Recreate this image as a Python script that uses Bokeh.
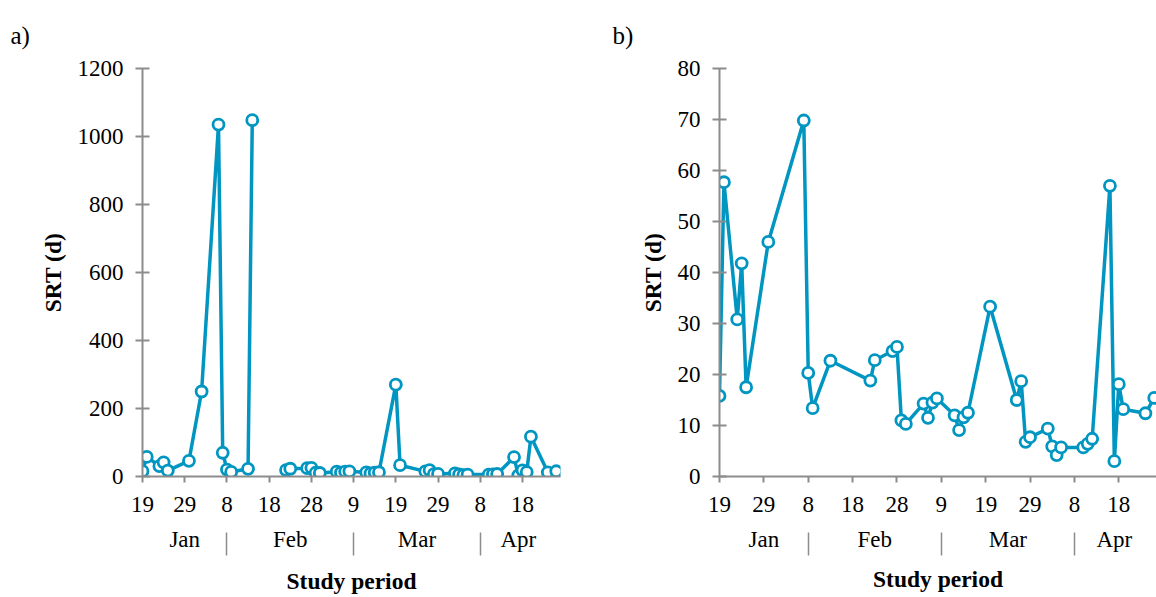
import numpy as np
import pandas as pd
from bokeh.plotting import figure
from bokeh.layouts import row, column
from bokeh.models import LinearAxis, FixedTicker, Range1d, ColumnDataSource
from bokeh.core.properties import value
from bokeh.embed import file_html
from bokeh.resources import INLINE

# ---------------- data ----------------
start_date = "2016-01-19"
dates = ["2016-01-19", "2016-01-20", "2016-01-23", "2016-01-24", "2016-01-25", "2016-01-30",
         "2016-02-02", "2016-02-06", "2016-02-07", "2016-02-08", "2016-02-09", "2016-02-13",
         "2016-02-14", "2016-02-18", "2016-02-22", "2016-02-23", "2016-02-27", "2016-02-28",
         "2016-02-29", "2016-03-01", "2016-03-05", "2016-03-06", "2016-03-07", "2016-03-08",
         "2016-03-12", "2016-03-13", "2016-03-14", "2016-03-15", "2016-03-19", "2016-03-20",
         "2016-03-26", "2016-03-27", "2016-03-28", "2016-03-29", "2016-04-02", "2016-04-03",
         "2016-04-04", "2016-04-05", "2016-04-10", "2016-04-11", "2016-04-12", "2016-04-16",
         "2016-04-17", "2016-04-18", "2016-04-19", "2016-04-20", "2016-04-24", "2016-04-26"]
srt = [15.8, 57.7, 30.8, 41.8, 17.5, 46.0,
       250.0, 1035.0, 69.8, 20.3, 13.4, 22.7,
       1048.0, np.nan, 18.8, 22.8, 24.6, 25.4,
       11.0, 10.3, 14.3, 11.5, 14.5, 15.3,
       12.0, 9.1, 11.6, 12.5, 270.0, 33.3,
       15.0, 18.7, 6.8, 7.7, 9.4, 5.9,
       4.2, 5.7, 5.7, 6.4, 7.4, 57.0,
       3.0, 18.1, 13.2, 117.0, 12.4, 15.4]

tick_dates = ["2016-01-19", "2016-01-29", "2016-02-08", "2016-02-18", "2016-02-28",
              "2016-03-09", "2016-03-19", "2016-03-29", "2016-04-08", "2016-04-18"]
month_names = ["Jan", "Feb", "Mar", "Apr"]
month_label_dates = ["2016-01-29", "2016-02-23", "2016-03-24", "2016-04-17"]
month_break_dates = ["2016-02-08", "2016-03-09", "2016-04-08"]

yticks_a = [0, 200, 400, 600, 800, 1000, 1200]
yticks_b = [0, 10, 20, 30, 40, 50, 60, 70, 80]
outlier_limit = 80

panel_tags = ["a)", "b)"]

# ---------------- helpers ----------------
t0 = pd.Timestamp(start_date)


def to_day(ds):
    return [int((pd.Timestamp(d) - t0).days) for d in ds]


day = np.array(to_day(dates), dtype=float)
val = np.array(srt, dtype=float)
tick_days = to_day(tick_dates)
tick_labels = {d: str((t0 + pd.Timedelta(days=d)).day) for d in tick_days}
month_days = to_day(month_label_dates)
month_overrides = {d: m for d, m in zip(month_days, month_names)}
break_days = to_day(month_break_dates)

BLUE = "#0096C1"
GRAY = "#8C8C8C"
FONT = "Liberation Serif"
TICK_FS = "23px"
TITLE_FS = "23.5px"
HEADER_H = 50
PANEL_H = 597 - HEADER_H
TOP = 18


def make_panel(x, y, yticks, yend, xend, width, left, right, bottom, title_standoff):
    p = figure(width=width, height=PANEL_H, output_backend="svg", toolbar_location=None,
               x_range=Range1d(0, xend), y_range=Range1d(0, yend),
               min_border_left=left, min_border_right=right, min_border_top=TOP,
               min_border_bottom=bottom, x_axis_type=None, y_axis_type=None)
    p.outline_line_color = None
    p.background_fill_color = "white"
    p.border_fill_color = "white"

    # y axis
    ya = LinearAxis(ticker=FixedTicker(ticks=yticks))
    ya.axis_line_color = GRAY
    ya.axis_line_width = 2
    ya.major_tick_line_color = GRAY
    ya.major_tick_line_width = 2
    ya.major_tick_in = 7
    ya.major_tick_out = 7
    ya.minor_tick_line_color = None
    ya.major_label_standoff = 12
    ya.major_label_text_font = FONT
    ya.major_label_text_font_size = TICK_FS
    ya.major_label_text_color = "black"
    ya.axis_label = "SRT (d)"
    ya.axis_label_text_font = FONT
    ya.axis_label_text_font_style = "bold"
    ya.axis_label_text_font_size = TITLE_FS
    ya.axis_label_text_color = "black"
    ya.axis_label_standoff = 9
    p.add_layout(ya, "left")

    # day axis
    xa = LinearAxis(ticker=FixedTicker(ticks=tick_days))
    xa.major_label_overrides = tick_labels
    xa.axis_line_color = GRAY
    xa.axis_line_width = 2
    xa.major_tick_line_color = GRAY
    xa.major_tick_line_width = 2
    xa.major_tick_in = 0
    xa.major_tick_out = 6
    xa.minor_tick_line_color = None
    xa.major_label_standoff = 14
    xa.major_label_text_font = FONT
    xa.major_label_text_font_size = TICK_FS
    xa.major_label_text_color = "black"
    p.add_layout(xa, "below")

    # month axis (month names, separators as minor ticks, axis title)
    ma = LinearAxis(ticker=FixedTicker(ticks=month_days, minor_ticks=break_days))
    ma.major_label_overrides = month_overrides
    ma.axis_line_color = None
    ma.major_tick_line_color = None
    ma.major_tick_in = 0
    ma.major_tick_out = 0
    ma.minor_tick_line_color = GRAY
    ma.minor_tick_line_width = 1.5
    ma.minor_tick_in = -18
    ma.minor_tick_out = 41
    ma.major_label_standoff = -29
    ma.major_label_text_font = FONT
    ma.major_label_text_font_size = TICK_FS
    ma.major_label_text_color = "black"
    ma.axis_label = "Study period"
    ma.axis_label_text_font = FONT
    ma.axis_label_text_font_style = "bold"
    ma.axis_label_text_font_size = TITLE_FS
    ma.axis_label_text_color = "black"
    ma.axis_label_standoff = title_standoff
    p.add_layout(ma, "below")

    p.xgrid.visible = False
    p.ygrid.ticker = FixedTicker(ticks=yticks)
    p.ygrid.grid_line_color = GRAY
    p.ygrid.grid_line_width = 2
    p.ygrid.grid_line_dash = "9 5"

    src = ColumnDataSource(dict(x=x, y=y))
    p.line("x", "y", source=src, line_color=BLUE, line_width=3.5)
    p.scatter("x", "y", source=src, size=11, marker="circle", fill_color="white",
              line_color=BLUE, line_width=2.8)
    return p


# panel a: all data (gap where value missing)
pa = make_panel(day, val, yticks_a, 1200, 99, 600, 142, 40, 121, 13)

# panel b: outliers removed, connected
mask = np.isfinite(val) & (val <= outlier_limit)
pb = make_panel(day[mask], val[mask], yticks_b, 80, 98.5, 556, 119, 0, 119, 11)

# header strip carrying the panel tags (pixel-like coordinates, y downward)
hdr = figure(width=1156, height=HEADER_H, output_backend="svg", toolbar_location=None,
             x_range=Range1d(0, 1156), y_range=Range1d(HEADER_H, 0),
             min_border=0, x_axis_type=None, y_axis_type=None)
hdr.outline_line_color = None
hdr.grid.visible = False
hdr.text(x=[10, 612], y=[35, 35], text=panel_tags, text_font=value(FONT),
         text_font_size=value("25px"), text_color="black", text_baseline="alphabetic",
         text_align="left")

layout = column(hdr, row(pa, pb), spacing=0)
open("out.html", "w").write(file_html(layout, INLINE))
